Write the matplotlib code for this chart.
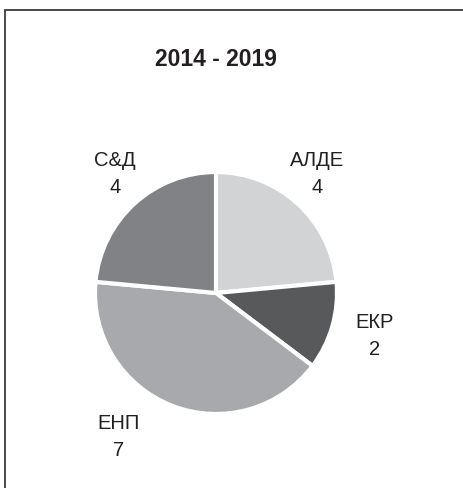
import matplotlib.pyplot as plt
from matplotlib.patches import Rectangle
import numpy as np

# Seats per group, 2014 - 2019
groups = ['АЛДЕ', 'ЕКР', 'ЕНП', 'С&Д']
seats = [4, 2, 7, 4]
colors = ['#d1d3d4', '#58595b', '#a7a9ac', '#808285']

# label placement (degrees off the wedge middle, distance in radii)
label_shift = [2, 0.8, -12.9, -2]
label_dist = [1.29, 1.36, 1.44, 1.29]

plt.rcParams['font.family'] = ['Liberation Sans', 'DejaVu Sans']

fig = plt.figure(figsize=(4.63, 4.88), dpi=100)

# frame around the figure (only top and left visible in the source)
fig.patches.append(Rectangle((5 / 463, -0.1), 1.2, 1.1 - 10 / 488,
                             transform=fig.transFigure, fill=False,
                             edgecolor='#3a3a3a', linewidth=1.3))

fig.text(216 / 463, 1 - 60 / 488, '2014 - 2019', ha='center', va='center',
         fontsize=16.5, fontweight='bold', color='#231f20')

ax = fig.add_axes([(216 - 121) / 463, (488 - 293 - 121) / 488, 242 / 463, 242 / 488])
labels = [f'{g}\n{s}' for g, s in zip(groups, seats)]
wedges, texts = ax.pie(seats, labels=labels, colors=colors, startangle=90,
                       counterclock=False, labeldistance=1.3,
                       wedgeprops=dict(edgecolor='white', linewidth=3),
                       textprops=dict(fontsize=14.5, color='#231f20', linespacing=1.55))

for w, t, shift, dist in zip(wedges, texts, label_shift, label_dist):
    ang = np.deg2rad((w.theta1 + w.theta2) / 2 + shift)
    t.set_position((dist * np.cos(ang), dist * np.sin(ang)))
    t.set_ha('center')
    t.set_va('center')
    t.set_multialignment('center')

ax.set_xlim(-1, 1)
ax.set_ylim(-1, 1)
ax.set_aspect('equal')
ax.axis('off')

fig.savefig('out.png', dpi=100)
